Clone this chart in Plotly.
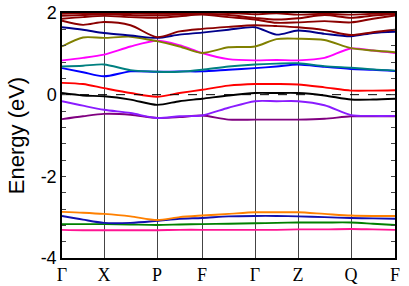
import plotly.graph_objects as go

# high-symmetry points (path distance) and labels
k_labels = ["Γ", "X", "P", "F", "Γ", "Z", "Q", "F"]
k_nodes = [0.0, 0.42, 0.95, 1.40, 1.93, 2.36, 2.89, 3.33]

# band energies (eV) sampled at: node, midpoint, node, midpoint, ... (15 values)
band_pink   = [-3.31, -3.32, -3.32, -3.32, -3.32, -3.31, -3.31, -3.31, -3.31, -3.31, -3.30, -3.30, -3.29, -3.30, -3.31]
band_green  = [-3.17, -3.17, -3.17, -3.18, -3.19, -3.18, -3.17, -3.16, -3.15, -3.14, -3.13, -3.13, -3.13, -3.16, -3.19]
band_blue_l = [-2.97, -3.06, -3.14, -3.14, -3.09, -3.04, -3.02, -2.98, -2.97, -2.97, -2.98, -3.00, -3.02, -3.03, -3.04]
band_orange = [-2.87, -2.89, -2.92, -2.98, -3.07, -3.00, -2.96, -2.92, -2.88, -2.88, -2.88, -2.92, -2.96, -2.97, -2.97]
band_purple = [-0.60, -0.53, -0.47, -0.49, -0.57, -0.55, -0.51, -0.61, -0.61, -0.61, -0.61, -0.59, -0.53, -0.53, -0.53]
band_violet = [-0.16, -0.27, -0.37, -0.45, -0.57, -0.53, -0.51, -0.32, -0.16, -0.16, -0.16, -0.26, -0.50, -0.52, -0.52]
band_black  = [0.04, -0.02, -0.04, -0.12, -0.25, -0.16, -0.10, -0.02, 0.04, 0.04, 0.04, -0.02, -0.12, -0.12, -0.10]
band_red    = [0.29, 0.26, 0.16, 0.04, -0.05, 0.04, 0.12, 0.22, 0.26, 0.26, 0.25, 0.18, 0.10, 0.10, 0.11]
band_blue   = [0.65, 0.55, 0.45, 0.57, 0.56, 0.57, 0.57, 0.61, 0.65, 0.69, 0.74, 0.68, 0.63, 0.61, 0.58]
band_teal   = [0.69, 0.71, 0.74, 0.60, 0.56, 0.56, 0.61, 0.69, 0.74, 0.76, 0.77, 0.70, 0.66, 0.62, 0.59]
band_magenta= [0.84, 0.90, 0.98, 1.18, 1.32, 1.21, 1.02, 0.87, 0.84, 0.85, 0.84, 0.90, 1.13, 1.08, 1.02]
band_olive  = [1.18, 1.40, 1.39, 1.42, 1.31, 1.18, 1.02, 1.16, 1.18, 1.36, 1.37, 1.34, 1.14, 1.08, 1.04]
band_navy   = [1.65, 1.59, 1.51, 1.45, 1.39, 1.47, 1.52, 1.59, 1.65, 1.47, 1.57, 1.49, 1.43, 1.51, 1.54]
band_m1     = [1.81, 1.71, 1.78, 1.70, 1.41, 1.55, 1.61, 1.66, 1.70, 1.68, 1.65, 1.58, 1.46, 1.53, 1.59]
band_m2     = [1.86, 1.90, 1.93, 1.90, 1.88, 1.92, 1.96, 1.90, 1.84, 1.76, 1.77, 1.80, 1.77, 1.86, 1.94]
band_m3     = [1.93, 1.95, 1.97, 1.95, 1.94, 1.96, 1.98, 1.95, 1.88, 1.84, 1.87, 1.95, 1.88, 1.94, 1.97]
band_m4     = [1.98, 2.00, 2.00, 1.99, 1.98, 1.99, 2.00, 2.00, 1.97, 1.99, 1.96, 1.98, 1.96, 1.98, 1.99]

bands = [
    (band_pink, "#FF1493"), (band_green, "#008000"), (band_blue_l, "#1010B0"),
    (band_orange, "#FF8000"), (band_purple, "#800080"), (band_violet, "#8A1CFF"),
    (band_black, "#000000"), (band_red, "#FF0000"), (band_blue, "#0000FF"),
    (band_teal, "#008080"), (band_magenta, "#FF00FF"), (band_olive, "#808000"),
    (band_navy, "#00008B"), (band_m1, "#8B0000"), (band_m2, "#8B0000"),
    (band_m3, "#8B0000"), (band_m4, "#8B0000"),
]

# sample positions: nodes and segment midpoints
k_samples = []
for i in range(len(k_nodes) - 1):
    k_samples.append(k_nodes[i])
    k_samples.append((k_nodes[i] + k_nodes[i + 1]) / 2)
k_samples.append(k_nodes[-1])

fig = go.Figure()
for vals, col in bands:
    fig.add_trace(go.Scatter(x=k_samples, y=vals, mode="lines",
                             line=dict(color=col, width=1.9, shape="spline", smoothing=0.8),
                             showlegend=False, hoverinfo="skip"))

# Fermi level
fig.add_trace(go.Scatter(x=[k_nodes[0], k_nodes[-1]], y=[0, 0], mode="lines",
                         line=dict(color="black", width=1, dash="dash"),
                         showlegend=False, hoverinfo="skip"))

y_major = [-4, -2, 0, 2]
y_ticks = [round(-4 + 0.4 * i, 2) for i in range(16)]
y_text = [str(int(v)) if any(abs(v - m) < 1e-6 for m in y_major) else "" for v in y_ticks]

fig.update_layout(
    width=409, height=286,
    margin=dict(l=62, r=14, t=13, b=28),
    paper_bgcolor="white", plot_bgcolor="white",
    font=dict(family="Liberation Sans, Arial", color="black"),
    xaxis=dict(range=[k_nodes[0], k_nodes[-1]], tickvals=k_nodes, ticktext=k_labels,
               automargin=False,
               showgrid=True, gridcolor="#444444", gridwidth=1, zeroline=False,
               showline=True, linecolor="black", linewidth=1.5, mirror=True,
               ticks="", tickfont=dict(family="Liberation Serif, Times New Roman", size=18)),
    yaxis=dict(range=[-4, 2], tickvals=y_ticks, ticktext=y_text, automargin=False,
               showgrid=False, zeroline=False, showline=True, linecolor="black",
               linewidth=1.5, mirror="ticks", ticks="inside", ticklen=4, tickwidth=1,
               tickfont=dict(size=18),
               title=dict(text="Energy (eV)", font=dict(size=22), standoff=10)),
)

fig.write_html("out.html", config={"displayModeBar": False},
               post_script="document.body.style.margin='0px';")
